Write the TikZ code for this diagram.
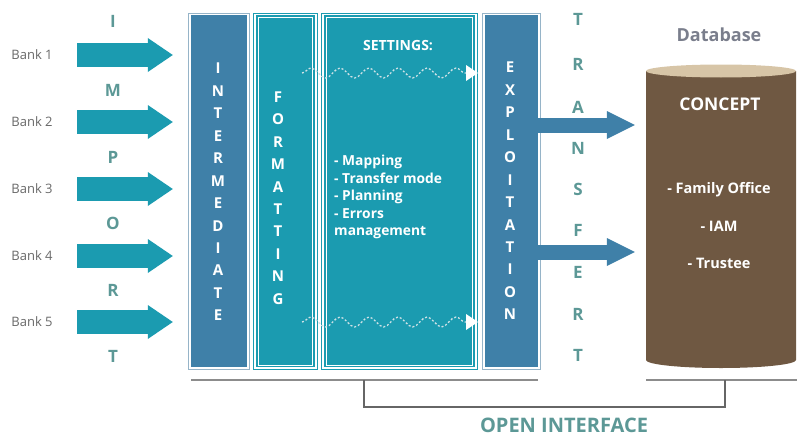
\documentclass[tikz,border=0pt]{standalone}
\usepackage{fontspec}
\setmainfont{Open Sans}
\usetikzlibrary{arrows.meta,decorations.pathmorphing,calc}
\definecolor{tealc}{RGB}{27,155,176}
\definecolor{steelc}{RGB}{63,128,168}
\definecolor{steelframe}{RGB}{150,180,200}
\definecolor{lettc}{RGB}{92,152,150}
\definecolor{bankc}{RGB}{105,105,105}
\definecolor{brownc}{RGB}{111,88,66}
\definecolor{tanc}{RGB}{215,197,167}
\definecolor{dbc}{RGB}{122,126,140}
\definecolor{linec}{RGB}{140,140,140}
\definecolor{wavec}{RGB}{205,225,230}
\begin{document}
\begin{tikzpicture}[x=1pt,y=-1pt,
  banklabel/.style={font=\fontsize{13}{15}\selectfont, text=bankc, inner sep=0pt},
  bigletter/.style={font=\bfseries\fontsize{17}{19}\selectfont, text=lettc, inner sep=0pt},
  colbox/.style={minimum height=352pt, inner sep=0pt, anchor=north},
  vertword/.style={font=\bfseries\fontsize{15}{22.45}\selectfont, text=white, align=center, inner sep=0pt},
  bankarrow/.style={draw=tealc, line width=24pt, -{Triangle[length=25pt,width=34pt,line width=0pt]}},
  outarrow/.style={draw=steelc, line width=15pt, -{Triangle[length=28pt,width=28pt,line width=0pt]}},
  wave/.style={draw=wavec, line width=1.3pt, dash pattern=on 2pt off 2pt,
    decorate, decoration={snake, segment length=29pt, amplitude=5pt, post length=12pt},
    -{Triangle[length=12pt,width=16pt,line width=0pt,fill=white]}},
  bline/.style={draw=linec, line width=1.3pt},
  whitetxt/.style={text=white, inner sep=0pt}
]
\useasboundingbox (0,0) rectangle (797,436);

% column boxes
\node[colbox, fill=steelc, minimum width=56pt] (inter) at (219,15) {};
\node[colbox, fill=tealc, minimum width=59pt] (fmt) at (285.5,15) {};
\node[colbox, fill=tealc, minimum width=151pt] (set) at (399.5,15) {};
\node[colbox, fill=steelc, minimum width=53pt] (expl) at (511.5,15) {};
% frames
\foreach \b in {inter,expl}{
  \draw[steelframe, line width=0.8pt] ([shift={(-2,-2)}]\b.north west) rectangle ([shift={(2,2)}]\b.south east);
}
\foreach \b in {fmt,set}{
  \draw[tealc, line width=0.8pt] ([shift={(-2,-2)}]\b.north west) rectangle ([shift={(2,2)}]\b.south east);
  \draw[white, line width=0.8pt] ([shift={(2.5,2.5)}]\b.north west) rectangle ([shift={(-2.5,-2.5)}]\b.south east);
}

% vertical words
\node[vertword] (tinter) at (218,192) {I\\N\\T\\E\\R\\M\\E\\D\\I\\A\\T\\E};
\node[vertword] (tfmt) at (278,198) {F\\O\\R\\M\\A\\T\\T\\I\\N\\G};
\node[vertword] (texpl) at (510,191) {E\\X\\P\\L\\O\\I\\T\\A\\T\\I\\O\\N};

% settings
\node[whitetxt, font=\bfseries\fontsize{14}{16}\selectfont] (settings) at (398,46) {SETTINGS:};
\node[whitetxt, font=\bfseries\fontsize{13.8}{17.5}\selectfont, align=left, anchor=north west] (items) at (334,155)
  {- Mapping\\- Transfer mode\\- Planning\\- Errors\\management};

% wavy arrows
\coordinate (w1s) at (302,73);
\coordinate (w1e) at (478,73);
\coordinate (w2s) at (302,322);
\coordinate (w2e) at (478,322);
\draw[wave] (w1s) -- (w1e);
\draw[wave] (w2s) -- (w2e);

% banks
\foreach \i/\y in {1/55,2/122,3/189,4/256,5/322}{
  \node[banklabel] (b\i) at (32,\y) {Bank \i};
  \coordinate (bs\i) at (77,\y);
  \draw[bankarrow] (bs\i) -- ([xshift=-18pt]b\i -| inter.west);
}

% IMPORT letters
\foreach \l/\y [count=\k] in {I/21,M/90,P/157,O/223,R/290,T/356}{
  \node[bigletter] (imp\k) at (113,\y) {\l};
}
% TRANSFERT letters
\foreach \l/\y [count=\k] in {T/19,R/64,A/107,N/148,S/189,F/230,E/272,R/314,T/355}{
  \node[bigletter] (tr\k) at (578,\y) {\l};
}

% database
\node[inner sep=0pt, minimum width=150pt, minimum height=296pt] (db) at (721,218) {};
\fill[brownc] (646,71) -- (646,360) arc[start angle=180,end angle=360,x radius=75pt,y radius=8pt] -- (796,71) -- cycle;
\fill[tanc] (721,71) ellipse[x radius=75pt, y radius=6.5pt];
\node[font=\bfseries\fontsize{18}{20}\selectfont, text=dbc, inner sep=0pt] (dbl) at (719,35) {Database};
\node[whitetxt, font=\bfseries\fontsize{17.5}{20}\selectfont] (concept) at (720,104) {CONCEPT};
\node[whitetxt, font=\bfseries\fontsize{14.5}{16}\selectfont] (fo) at (719,190) {- Family Office};
\node[whitetxt, font=\bfseries\fontsize{14.5}{16}\selectfont] (iam) at (719,226) {- IAM};
\node[whitetxt, font=\bfseries\fontsize{14.5}{16}\selectfont] (tru) at (719,263) {- Trustee};

% transfer arrows
\draw[outarrow] (expl.east |- 0,125) -- ([xshift=-11pt]db.west |- 0,125);
\draw[outarrow] (expl.east |- 0,252) -- ([xshift=-11pt]db.west |- 0,252);

% bottom lines and bracket
\draw[bline] (191,380) -- (538,380);
\draw[bline] (646,380) -- (797,380);
\draw[bline, draw=gray!80!black] (364,380) -- (364,407) -- (725,407) -- (725,380);
\node[text=lettc, inner sep=0pt, anchor=base, font=\bfseries\fontsize{20}{22}\selectfont] (open) at (564,432.5) {OPEN INTERFACE};
\end{tikzpicture}
\end{document}
